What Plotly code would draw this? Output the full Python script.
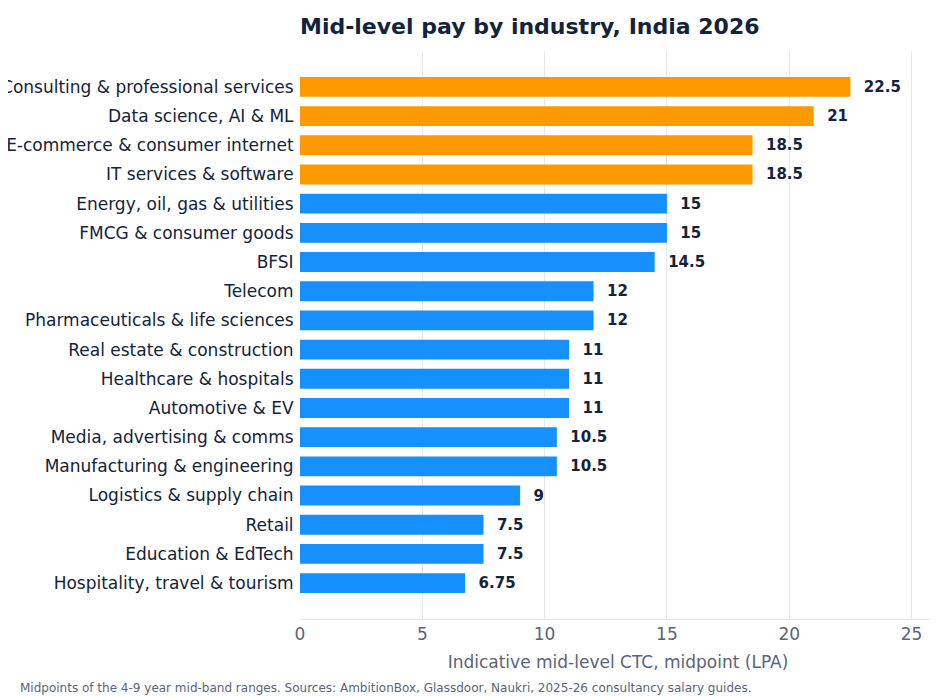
import plotly.graph_objects as go

industries = [
    "Consulting & professional services", "Data science, AI & ML",
    "E-commerce & consumer internet", "IT services & software",
    "Energy, oil, gas & utilities", "FMCG & consumer goods", "BFSI", "Telecom",
    "Pharmaceuticals & life sciences", "Real estate & construction",
    "Healthcare & hospitals", "Automotive & EV", "Media, advertising & comms",
    "Manufacturing & engineering", "Logistics & supply chain", "Retail",
    "Education & EdTech", "Hospitality, travel & tourism",
]
ctc_lpa = [22.5, 21, 18.5, 18.5, 15, 15, 14.5, 12, 12, 11, 11, 11, 10.5, 10.5, 9, 7.5, 7.5, 6.75]
top_n = 4

colors = ["#FF9900" if i < top_n else "#168FFF" for i in range(len(industries))]
labels = ["  " + f"{v:g}" for v in ctc_lpa]

fig = go.Figure(go.Bar(
    x=ctc_lpa, y=industries, orientation="h",
    marker=dict(color=colors, line=dict(width=0)),
    width=0.68,
    text=labels, textposition="outside",
    textfont=dict(size=15, color="#13233A", family="DejaVu Sans", weight="bold"),
    cliponaxis=False,
))

n = len(industries)
fig.update_layout(
    width=938, height=697,
    margin=dict(l=292, r=10, t=43, b=86, autoexpand=False),
    plot_bgcolor="white", paper_bgcolor="white",
    font=dict(family="DejaVu Sans", color="#13233A"),
    title=dict(text="<b>Mid-level pay by industry, India 2026</b>", x=0, xref="paper",
               xanchor="left", y=0.985, yanchor="top", font=dict(size=22, color="#13233A")),
    showlegend=False,
    xaxis=dict(range=[0, 26], tickvals=[0, 5, 10, 15, 20, 25], showgrid=True,
               gridcolor="#E6E8EC", zeroline=False, showline=True, linecolor="#E6E8EC",
               automargin=False, tickfont=dict(size=17, color="#5A6478"),
               title=dict(text="Indicative mid-level CTC, midpoint (LPA)",
                          font=dict(size=17, color="#5A6478"), standoff=12)),
    yaxis=dict(range=[n - 1 + 1.23, -1.23], tickfont=dict(size=17, color="#13233A"),
               ticksuffix=" ", showgrid=False, automargin=False),
    annotations=[dict(text="Midpoints of the 4-9 year mid-band ranges. Sources: AmbitionBox, Glassdoor, Naukri, 2025-26 consultancy salary guides.",
                      xref="paper", yref="paper", x=-282/636, y=-69/568,
                      xanchor="left", yanchor="middle", showarrow=False,
                      font=dict(size=12, color="#5A6478"))],
)

fig.write_html("out.html")
